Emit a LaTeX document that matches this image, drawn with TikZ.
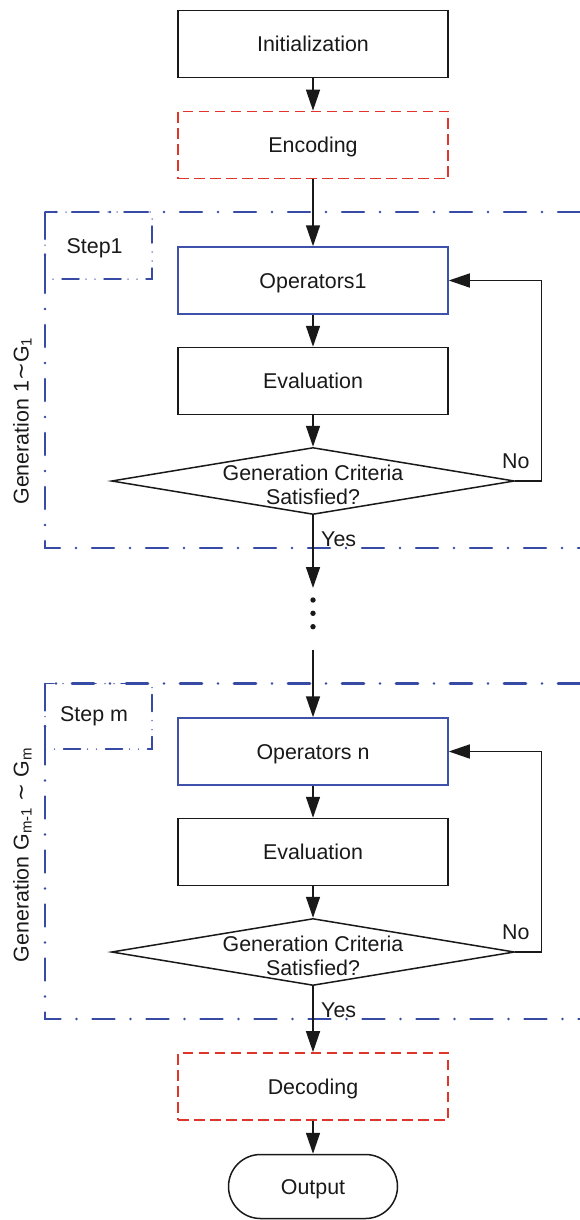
\documentclass[tikz,border=0pt]{standalone}
\usepackage{fontspec}
\setmainfont{Liberation Sans}
\newfontfamily\symfont{DejaVu Sans}
\usetikzlibrary{arrows.meta,shapes.geometric}
\definecolor{ink}{RGB}{25,25,25}
\definecolor{opblue}{RGB}{62,82,172}
\definecolor{frameblue}{RGB}{55,75,165}
\definecolor{codered}{RGB}{225,52,42}
\begin{document}
\begin{tikzpicture}[x=1pt,y=-1pt,
  every node/.style={font=\fontsize{21.4}{24}\selectfont, text=ink},
  boxbase/.style={minimum width=270pt, minimum height=67pt, inner sep=0pt,
    text height=15.5pt, text depth=0pt},
  procbox/.style={boxbase, draw=ink, line width=1.5pt},
  opbox/.style={boxbase, draw=opblue, line width=1.5pt},
  codebox/.style={boxbase, draw=codered, line width=1.7pt,
    dash pattern=on 10.5pt off 5.5pt},
  decision/.style={diamond, draw=ink, line width=1.5pt, inner sep=0pt,
    minimum width=403pt, minimum height=67pt},
  terminal/.style={draw=ink, line width=1.5pt, rounded corners=32pt,
    minimum width=169pt, minimum height=64pt, inner sep=0pt,
    text height=15.5pt, text depth=0pt},
  flow/.style={draw=ink, line width=1.5pt,
    -{Triangle[length=21pt,width=14pt]}},
  genframe/.style={draw=frameblue, line width=2.6pt, line cap=round,
    dash pattern=on 22pt off 16pt on 0pt off 16pt},
  stepframe/.style={draw=frameblue, line width=1.5pt, line cap=round,
    dash pattern=on 17pt off 7pt on 0pt off 9pt on 0pt off 9pt},
  dotmark/.style={circle, fill=ink, minimum size=5.4pt, inner sep=0pt},
  tag/.style={anchor=base west, inner sep=0pt},
  sidelabel/.style={rotate=90, anchor=base, inner sep=0pt}
]
\useasboundingbox (0,0) rectangle (580,1220);

% generation frames with their step boxes
\draw[genframe] (580,212) -- (45,212) -- (45,548) -- (580,548);
\draw[stepframe] (45,212) rectangle (152,279);
\node[tag] (step1) at (66.5,253) {Step1};
\node[sidelabel] (gen1) at (28.5,421) {Generation 1{\symfont∼}G\textsubscript{1}};

\draw[genframe] (580,683.5) -- (45,683.5) -- (45,1019) -- (580,1019);
\draw[stepframe] (45,683.5) rectangle (152,749);
\node[tag] (stepm) at (60,721) {Step m};
\node[sidelabel] (genm) at (28.5,855) {Generation G\textsubscript{m-1} {\symfont∼} G\textsubscript{m}};

% main flow
\node[procbox] (init) at (313,44) {Initialization};
\node[codebox] (enc) at (313,145) {Encoding};

\node[opbox] (op1) at (313,280.5) {Operators1};
\node[procbox] (ev1) at (313,381) {Evaluation};
\node[decision] (d1) at (313,481) {};
\node[align=center, inner sep=0pt] (q1) at (313,485) {Generation Criteria\\Satisfied?};

\coordinate (gapin) at (313,588);
\node[dotmark] (dotA) at (313,600) {};
\node[dotmark] (dotB) at (313,613.3) {};
\node[dotmark] (dotC) at (313,626.7) {};
\coordinate (gapout) at (313,650);

\node[opbox] (opn) at (313,751.5) {Operators n};
\node[procbox] (evn) at (313,852) {Evaluation};
\node[decision] (dn) at (313,952) {};
\node[align=center, inner sep=0pt] (qn) at (313,956) {Generation Criteria\\Satisfied?};

\node[codebox] (dec) at (313,1086.5) {Decoding};
\node[terminal] (out) at (313,1186.5) {Output};

% connectors
\draw[flow] (init) -- (enc);
\draw[flow] (enc) -- (op1);
\draw[flow] (op1) -- (ev1);
\draw[flow] (ev1) -- (d1.north);
\draw[flow] (d1.south) -- (gapin);
\draw[flow] (d1.east) -- ++(26,0) |- (op1.east);
\node[tag] (no1) at (502,468) {No};
\node[tag] (yes1) at (321,546) {Yes};

\draw[flow] (gapout) -- (opn);
\draw[flow] (opn) -- (evn);
\draw[flow] (evn) -- (dn.north);
\draw[flow] (dn.south) -- (dec);
\draw[flow] (dn.east) -- ++(26,0) |- (opn.east);
\node[tag] (non) at (502,939) {No};
\node[tag] (yesn) at (321,1017) {Yes};

\draw[flow] (dec) -- (out);
\end{tikzpicture}
\end{document}
